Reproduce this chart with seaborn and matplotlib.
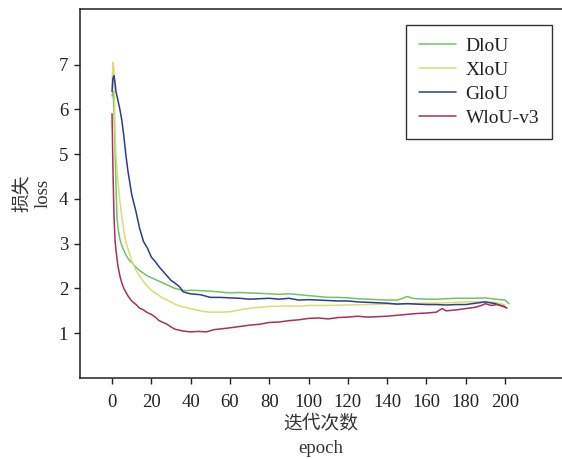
import matplotlib
matplotlib.use("Agg")
import matplotlib.pyplot as plt
import seaborn as sns
import pandas as pd

# ---- data ----
diou_x = [0, 0.5, 1, 1.5, 2, 2.5, 3, 4, 5, 6, 7, 8, 9, 10, 12, 14, 16, 18, 20, 22, 24, 26, 28, 30,
          32, 34, 36, 38, 40, 45, 50, 55, 60, 65, 70, 75, 80, 85, 90, 95, 100, 105, 110, 115, 120,
          125, 130, 135, 140, 145, 148, 150, 153, 155, 160, 165, 170, 175, 180, 185, 190, 195, 200, 202]
diou_y = [6.3, 6.4, 6.0, 5.2, 4.3, 3.6, 3.35, 3.1, 2.95, 2.85, 2.75, 2.68, 2.62, 2.58, 2.48, 2.40,
          2.34, 2.28, 2.24, 2.20, 2.16, 2.12, 2.08, 2.04, 2.00, 1.98, 1.96, 1.95, 1.96, 1.95, 1.94,
          1.92, 1.90, 1.91, 1.90, 1.89, 1.88, 1.87, 1.88, 1.86, 1.84, 1.82, 1.80, 1.80, 1.79, 1.77,
          1.76, 1.75, 1.74, 1.74, 1.78, 1.82, 1.78, 1.77, 1.76, 1.76, 1.77, 1.78, 1.78, 1.78, 1.79,
          1.76, 1.74, 1.66]

xiou_x = [0, 0.5, 1, 1.5, 2, 3, 4, 5, 6, 7, 8, 10, 12, 14, 16, 18, 20, 22, 24, 26, 28, 30, 32, 35,
          38, 40, 43, 46, 50, 55, 60, 65, 70, 75, 80, 85, 90, 95, 100, 110, 120, 130, 140, 150, 160,
          170, 180, 190, 195, 200]
xiou_y = [6.5, 7.05, 6.9, 5.6, 5.0, 4.4, 3.95, 3.6, 3.3, 3.05, 2.9, 2.62, 2.42, 2.28, 2.15, 2.05,
          1.96, 1.90, 1.84, 1.78, 1.74, 1.70, 1.65, 1.60, 1.57, 1.55, 1.52, 1.49, 1.47, 1.47, 1.48,
          1.52, 1.56, 1.58, 1.60, 1.60, 1.61, 1.60, 1.62, 1.62, 1.63, 1.64, 1.65, 1.66, 1.67, 1.68,
          1.70, 1.70, 1.69, 1.63]

giou_x = [0, 0.5, 1, 1.5, 2, 3, 4, 5, 6, 7, 8, 10, 12, 14, 16, 18, 20, 22, 24, 26, 28, 30, 32, 34,
          35, 36, 38, 40, 45, 50, 55, 60, 65, 70, 75, 80, 85, 90, 95, 100, 105, 110, 115, 120, 125,
          130, 135, 140, 145, 150, 155, 160, 165, 170, 175, 180, 185, 190, 195, 200]
giou_y = [6.4, 6.7, 6.75, 6.6, 6.4, 6.2, 6.0, 5.75, 5.4, 5.0, 4.65, 4.1, 3.75, 3.35, 3.05, 2.9, 2.7,
          2.6, 2.48, 2.38, 2.28, 2.18, 2.12, 2.05, 2.0, 1.93, 1.90, 1.88, 1.86, 1.80, 1.80, 1.79,
          1.78, 1.76, 1.77, 1.78, 1.76, 1.78, 1.74, 1.75, 1.74, 1.73, 1.72, 1.72, 1.70, 1.69, 1.68,
          1.67, 1.65, 1.66, 1.65, 1.64, 1.64, 1.63, 1.64, 1.64, 1.67, 1.70, 1.66, 1.59]

wiou_x = [0, 0.5, 1, 1.5, 2, 3, 4, 5, 6, 8, 10, 12, 14, 16, 18, 20, 22, 24, 26, 28, 30, 32, 34, 36,
          38, 40, 44, 48, 52, 56, 60, 65, 70, 75, 80, 85, 90, 95, 100, 105, 110, 115, 120, 125, 130,
          135, 140, 145, 150, 155, 160, 165, 168, 170, 175, 180, 185, 188, 190, 193, 196, 199, 201]
wiou_y = [5.9, 4.6, 3.6, 3.1, 2.85, 2.5, 2.28, 2.12, 2.0, 1.84, 1.72, 1.65, 1.56, 1.52, 1.46, 1.42,
          1.36, 1.28, 1.24, 1.20, 1.14, 1.09, 1.07, 1.05, 1.04, 1.03, 1.04, 1.03, 1.08, 1.10, 1.12,
          1.15, 1.18, 1.20, 1.24, 1.25, 1.28, 1.30, 1.33, 1.34, 1.32, 1.35, 1.36, 1.38, 1.36, 1.37,
          1.38, 1.40, 1.42, 1.44, 1.45, 1.47, 1.55, 1.50, 1.52, 1.55, 1.58, 1.62, 1.66, 1.62, 1.64,
          1.60, 1.56]

labels = ["DloU", "XloU", "GloU", "WloU-v3"]
colors = ["#74c264", "#dcdb74", "#2b3d8c", "#a8305a"]
x_ticks = [0, 20, 40, 60, 80, 100, 120, 140, 160, 180, 200]
y_ticks = [1, 2, 3, 4, 5, 6, 7]

frames = []
for lab, xs, ys in zip(labels, [diou_x, xiou_x, giou_x, wiou_x],
                       [diou_y, xiou_y, giou_y, wiou_y]):
    frames.append(pd.DataFrame({"epoch": xs, "loss": ys, "method": lab}))
df = pd.concat(frames, ignore_index=True)

sns.set_style("ticks")
plt.rcParams["font.family"] = ["Liberation Serif", "Noto Sans CJK SC", "DejaVu Sans"]

fig = plt.figure(figsize=(5.62, 4.59), dpi=100)
ax = fig.add_axes([80 / 562, 81 / 459, 1 - 80 / 562, 369 / 459])

sns.lineplot(data=df, x="epoch", y="loss", hue="method", hue_order=labels,
             palette=dict(zip(labels, colors)), estimator=None, sort=True,
             linewidth=1.1, ax=ax)

ax.set_xlim(-16.3, 229)
ax.set_ylim(0, 8.24)
ax.set_xticks(x_ticks)
ax.set_yticks(y_ticks)
ax.tick_params(axis="both", direction="out", length=4.5, width=1, labelsize=13.5,
               colors="#222222", pad=4)
ax.tick_params(axis="x", pad=7)
for s in ["left", "bottom", "top"]:
    ax.spines[s].set_color("#222222")
    ax.spines[s].set_linewidth(1.1)
ax.spines["right"].set_visible(False)

ax.set_xlabel("迭代次数\nepoch", fontsize=13.5, color="#333333", linespacing=1.55, labelpad=3)
ax.set_ylabel("损失\nloss", fontsize=13.5, color="#333333", linespacing=1.25, labelpad=5)

leg = ax.legend(loc="upper right", bbox_to_anchor=(0.979, 0.957), borderaxespad=0,
                fontsize=14, frameon=True, fancybox=False, handlelength=1.9,
                handletextpad=0.5, labelspacing=0.32, borderpad=0.65)
leg.get_frame().set_edgecolor("#333333")
leg.get_frame().set_linewidth(1.0)
leg.get_frame().set_alpha(1)
for t in leg.get_texts():
    t.set_color("#222222")

fig.savefig("out.png", dpi=100)
